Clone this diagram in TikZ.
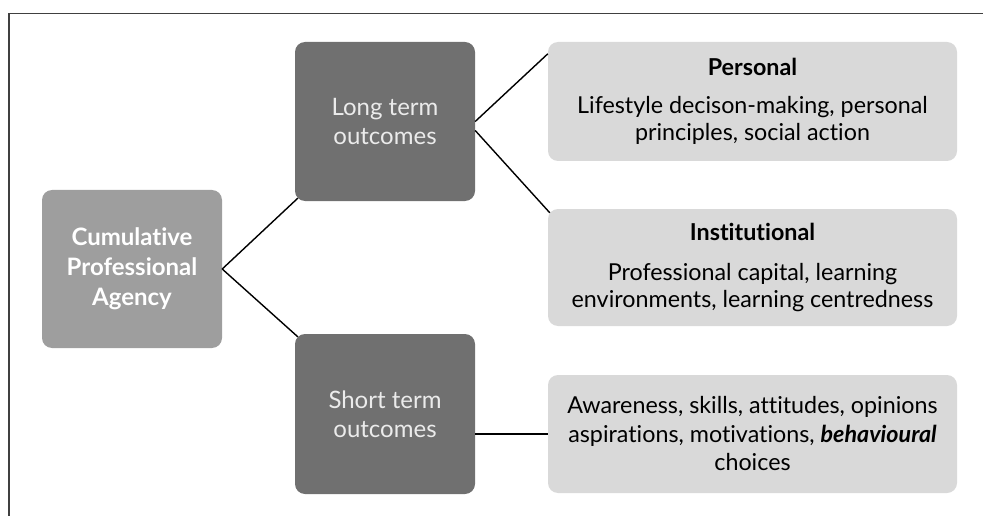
\documentclass[tikz,border=0pt]{standalone}
\usepackage{fontspec}
\setmainfont[Ligatures=NoCommon]{Lato}
\usetikzlibrary{calc}
\definecolor{framecol}{HTML}{404040}
\definecolor{cpafill}{HTML}{9E9E9E}
\definecolor{midfill}{HTML}{707070}
\definecolor{lightfill}{HTML}{D9D9D9}
\begin{document}
\begin{tikzpicture}[x=1pt,y=-1pt,
  box/.style={rounded corners=10pt, inner sep=0pt, align=center, draw=none},
  bigbox/.style={box, minimum width=180pt},
  rbox/.style={box, fill=lightfill, minimum width=409pt, text=black, font=\fontsize{23.3}{27}\selectfont},
  conn/.style={draw=black, line width=1.4pt}]
\useasboundingbox (0,0) rectangle (983,516);
\draw[framecol, line width=1.6pt] (9,516) -- (9,13.5) -- (983,13.5);

\node[bigbox, fill=cpafill, minimum height=158pt, text=white, font=\fontsize{24}{30}\selectfont\bfseries] (cpa) at (132,269) {Cumulative\\Professional\\Agency};
\node[bigbox, fill=midfill, minimum height=159pt, text=white!92!black, font=\fontsize{24}{29}\selectfont] (lt) at (385,121.5) {Long term\\outcomes};
\node[bigbox, fill=midfill, minimum height=160pt, text=white!92!black, font=\fontsize{24}{29}\selectfont] (st) at (385,414) {Short term\\outcomes};

\node[rbox, minimum height=119pt] (per) at (752.5,101.5) {\textbf{Personal}\\[11pt]Lifestyle decison-making, personal\\principles, social action};
\node[rbox, minimum height=117pt] (inst) at (752.5,267.5) {\textbf{Institutional}\\[13pt]Professional capital, learning\\environments, learning centredness};
\node[rbox, minimum height=118pt, font=\fontsize{23.3}{28.5}\selectfont] (sb) at (752.5,434) {Awareness, skills, attitudes, opinions\\aspirations, motivations, \textbf{\textit{behavioural}}\\choices};

\draw[conn] (cpa.east) -- ($(lt.south west)+(3,-3)$);
\draw[conn] (cpa.east) -- ($(st.north west)+(3,3)$);
\draw[conn] (lt.east) -- ($(per.north west)+(0,12)$);
\draw[conn] ($(lt.east)+(0,9)$) -- ($(inst.north west)+(2,4)$);
\draw[conn] (st.east |- sb.west) -- (sb.west);
\end{tikzpicture}
\end{document}
